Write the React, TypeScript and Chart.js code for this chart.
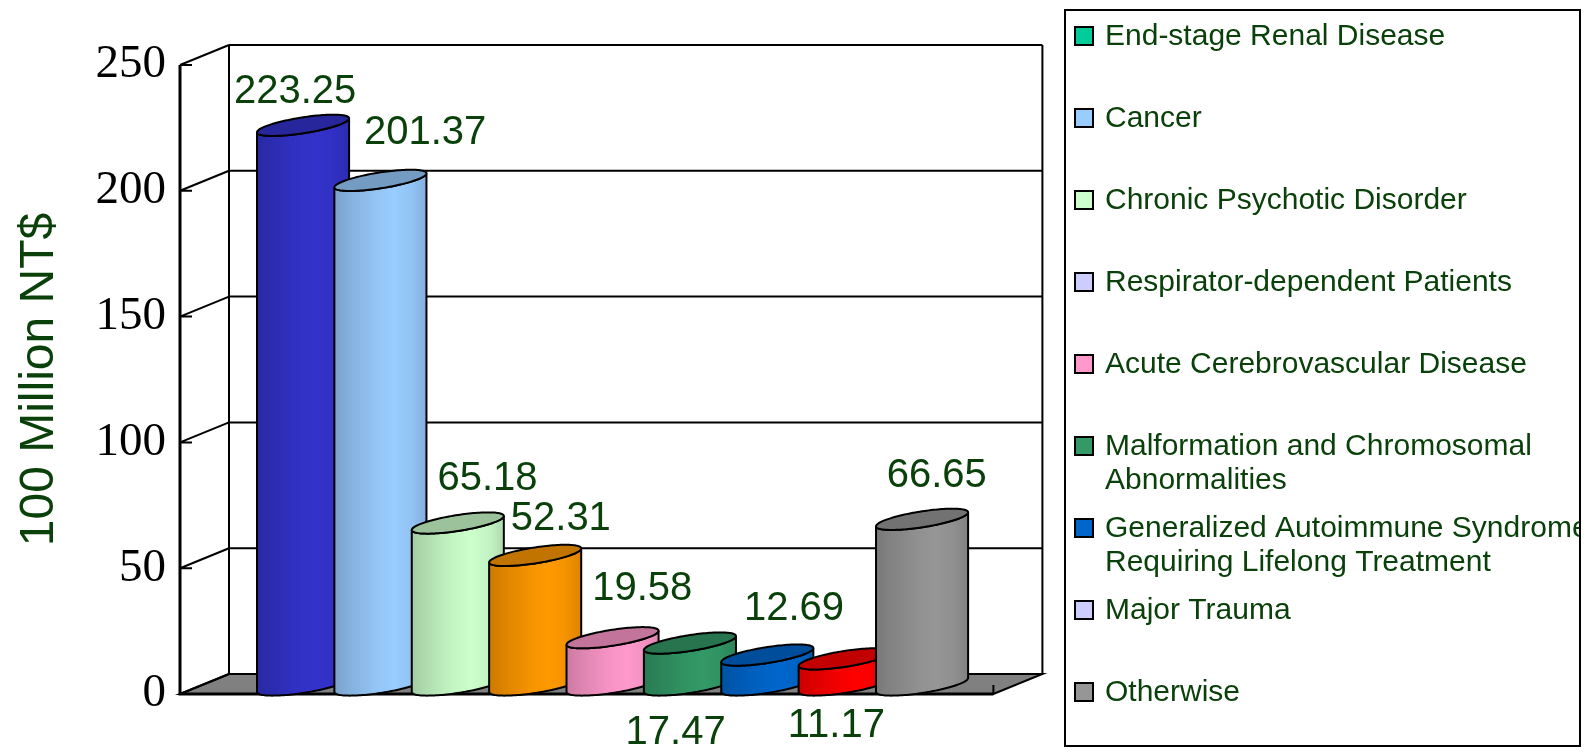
import React, { useEffect, useRef } from "react";
import { Chart, registerables } from "chart.js";

Chart.register(...registerables);

const CATEGORIES = [
  "End-stage Renal Disease",
  "Cancer",
  "Chronic Psychotic Disorder",
  "Respirator-dependent Patients",
  "Acute Cerebrovascular Disease",
  "Malformation and Chromosomal Abnormalities",
  "Generalized Autoimmune Syndrome Requiring Lifelong Treatment",
  "Major Trauma",
  "Otherwise",
];
const LEGEND_LINES = [
  ["End-stage Renal Disease"],
  ["Cancer"],
  ["Chronic Psychotic Disorder"],
  ["Respirator-dependent Patients"],
  ["Acute Cerebrovascular Disease"],
  ["Malformation and Chromosomal", "Abnormalities"],
  ["Generalized Autoimmune Syndrome", "Requiring Lifelong Treatment"],
  ["Major Trauma"],
  ["Otherwise"],
];
const VALUES = [223.25, 201.37, 65.18, 52.31, 19.58, 17.47, 12.69, 11.17, 66.65];
const BAR_COLORS = ["#3333CC", "#99CCFF", "#CCFFCC", "#FF9900", "#FF99CC", "#339966", "#0066CC", "#FF0000", "#969696"];
const LEGEND_COLORS = ["#00CC99", "#99CCFF", "#CCFFCC", "#CCCCFF", "#FF99CC", "#339966", "#0066CC", "#CCCCFF", "#969696"];
const Y_TICKS = [0, 50, 100, 150, 200, 250];
const Y_TITLE = "100 Million NT$";
// label placement (pixel offsets from bar top centre)
const LABEL_OFFSETS = [[-0.5, -40], [52, -54], [37, -51], [33, -43], [37, -56], [-7, 83], [34, -53], [-1, 60], [22, -50]];

const TEXT_GREEN = "#0a400a";
const DEPTH_DX = 49;
const DEPTH_DY = -20;

function hexToRgb(h: string) {
  const n = parseInt(h.slice(1), 16);
  return [(n >> 16) & 255, (n >> 8) & 255, n & 255];
}
function shade(h: string, f: number) {
  const [r, g, b] = hexToRgb(h);
  const c = (v: number) => Math.max(0, Math.min(255, Math.round(v * f)));
  return `rgb(${c(r)},${c(g)},${c(b)})`;
}

const scenePlugin = {
  id: "scene3d",
  beforeDatasetsDraw(chart: any) {
    const { ctx, chartArea } = chart;
    const ys = chart.scales.y;
    const fl = chartArea.left - 77;
    const fr = chartArea.right + 40;
    const y0 = ys.getPixelForValue(0);
    const yMax = ys.getPixelForValue(Y_TICKS[Y_TICKS.length - 1]);
    ctx.save();
    // floor
    ctx.beginPath();
    ctx.moveTo(fl, y0);
    ctx.lineTo(fl + DEPTH_DX, y0 + DEPTH_DY);
    ctx.lineTo(fr + DEPTH_DX, y0 + DEPTH_DY);
    ctx.lineTo(fr, y0);
    ctx.closePath();
    ctx.fillStyle = "#808080";
    ctx.fill();
    ctx.strokeStyle = "#000";
    ctx.lineWidth = 2;
    ctx.stroke();
    // back wall grid + left wall diagonals
    for (const v of Y_TICKS) {
      const y = ys.getPixelForValue(v);
      ctx.beginPath();
      ctx.moveTo(fl + DEPTH_DX, y + DEPTH_DY);
      ctx.lineTo(fr + DEPTH_DX, y + DEPTH_DY);
      ctx.moveTo(fl, y);
      ctx.lineTo(fl + DEPTH_DX, y + DEPTH_DY);
      ctx.moveTo(fl, y);
      ctx.lineTo(fl + 12, y);
      ctx.stroke();
    }
    // back verticals
    ctx.beginPath();
    ctx.moveTo(fl + DEPTH_DX, yMax + DEPTH_DY);
    ctx.lineTo(fl + DEPTH_DX, y0 + DEPTH_DY);
    ctx.moveTo(fr + DEPTH_DX, yMax + DEPTH_DY);
    ctx.lineTo(fr + DEPTH_DX, y0 + DEPTH_DY);
    ctx.stroke();
    // front axis and floor front edge
    ctx.lineWidth = 3;
    ctx.beginPath();
    ctx.moveTo(fl, yMax);
    ctx.lineTo(fl, y0);
    ctx.lineTo(fr, y0);
    ctx.stroke();
    ctx.lineWidth = 2;
    ctx.beginPath();
    ctx.moveTo(fr, y0 - 9);
    ctx.lineTo(fr, y0);
    ctx.stroke();
    ctx.restore();
  },
  beforeDatasetDraw() {
    return false;
  },
  afterDatasetsDraw(chart: any) {
    const { ctx } = chart;
    const meta = chart.getDatasetMeta(0);
    const s = -7;
    const b = 8;
    const N = 64;
    ctx.save();
    meta.data.forEach((el: any, i: number) => {
      const color = BAR_COLORS[i];
      const x0 = el.x - el.width / 2;
      const W = el.width * 1.19;
      const a = W / 2;
      const cx = x0 + a;
      const cyT = el.y - 7;
      const cyB = el.base - 9;
      const pt = (cy: number, t: number) => [cx + a * Math.cos(t), cy + s * Math.cos(t) + b * Math.sin(t)];
      // body
      const grad = ctx.createLinearGradient(cx - a, 0, cx + a, 0);
      grad.addColorStop(0, shade(color, 0.8));
      grad.addColorStop(0.18, shade(color, 0.87));
      grad.addColorStop(0.45, shade(color, 0.96));
      grad.addColorStop(0.65, shade(color, 1.0));
      grad.addColorStop(0.85, shade(color, 0.95));
      grad.addColorStop(1, shade(color, 0.86));
      ctx.beginPath();
      let p = pt(cyT, Math.PI);
      ctx.moveTo(p[0], p[1]);
      for (let k = 0; k <= N; k++) {
        const t = Math.PI - (Math.PI * k) / N;
        p = pt(cyB, t);
        ctx.lineTo(p[0], p[1]);
      }
      for (let k = 0; k <= N; k++) {
        const t = (Math.PI * k) / N;
        p = pt(cyT, t);
        ctx.lineTo(p[0], p[1]);
      }
      ctx.closePath();
      ctx.fillStyle = grad;
      ctx.fill();
      ctx.strokeStyle = "#000";
      ctx.lineWidth = 2;
      ctx.stroke();
      // top
      ctx.beginPath();
      for (let k = 0; k <= 2 * N; k++) {
        const t = (Math.PI * k) / N;
        p = pt(cyT, t);
        if (k === 0) ctx.moveTo(p[0], p[1]);
        else ctx.lineTo(p[0], p[1]);
      }
      ctx.closePath();
      ctx.fillStyle = shade(color, 0.76);
      ctx.fill();
      ctx.stroke();
    });
    // data labels
    ctx.font = "40px 'Liberation Sans', Arial, sans-serif";
    ctx.fillStyle = TEXT_GREEN;
    ctx.textAlign = "center";
    ctx.textBaseline = "middle";
    meta.data.forEach((el: any, i: number) => {
      const [dx, dy] = LABEL_OFFSETS[i];
      ctx.fillText(VALUES[i].toFixed(2), el.x + dx, el.y + dy);
    });
    ctx.restore();
  },
  afterDraw(chart: any) {
    const { ctx } = chart;
    const box = { l: 1065, t: 10, r: 1580, b: 746 };
    ctx.save();
    ctx.strokeStyle = "#000";
    ctx.lineWidth = 2;
    ctx.strokeRect(box.l, box.t, box.r - box.l, box.b - box.t);
    ctx.beginPath();
    ctx.rect(box.l + 1, box.t + 1, box.r - box.l - 2, box.b - box.t - 2);
    ctx.clip();
    ctx.font = "30px 'Liberation Sans', Arial, sans-serif";
    ctx.textAlign = "left";
    ctx.textBaseline = "middle";
    LEGEND_LINES.forEach((lines, i) => {
      const yc = 36 + 82 * i;
      ctx.fillStyle = LEGEND_COLORS[i];
      ctx.fillRect(1075, yc - 9, 18, 18);
      ctx.strokeStyle = "#000";
      ctx.lineWidth = 2;
      ctx.strokeRect(1075, yc - 9, 18, 18);
      ctx.fillStyle = TEXT_GREEN;
      lines.forEach((ln, j) => ctx.fillText(ln, 1105, yc + 1 + j * 34));
    });
    ctx.restore();
  },
};

export default function App() {
  const ref = useRef<HTMLCanvasElement | null>(null);
  useEffect(() => {
    if (!ref.current) return;
    const chart = new Chart(ref.current, {
      type: "bar",
      data: {
        labels: CATEGORIES,
        datasets: [
          {
            data: VALUES,
            backgroundColor: BAR_COLORS,
            barPercentage: 1,
            categoryPercentage: 1,
          },
        ],
      },
      options: {
        animation: false,
        responsive: false,
        maintainAspectRatio: false,
        devicePixelRatio: 1,
        layout: { padding: { left: 11, right: 641.6, top: 65, bottom: 58 } },
        plugins: { legend: { display: false }, tooltip: { enabled: false } },
        scales: {
          x: { type: "category", display: false, offset: true },
          y: {
            min: 0,
            max: 250,
            afterBuildTicks: (s: any) => {
              s.ticks = Y_TICKS.map((v) => ({ value: v }));
            },
            afterFit: (s: any) => {
              s.width = 246;
              s.paddingTop = 0;
              s.paddingBottom = 0;
            },
            grid: { display: false, drawTicks: false },
            border: { display: false },
            ticks: {
              padding: 91,
              color: "#000",
              font: { family: "'Liberation Serif', 'Times New Roman', serif", size: 47 },
            },
            title: {
              display: true,
              text: Y_TITLE,
              color: TEXT_GREEN,
              padding: 0,
              font: { family: "'Liberation Sans', Arial, sans-serif", size: 48 },
            },
          },
        },
      },
      plugins: [scenePlugin],
    } as any);
    return () => chart.destroy();
  }, []);
  return (
    <div style={{ position: "fixed", left: 0, top: 0, width: 1595, height: 752, background: "#fff" }}>
      <canvas ref={ref} width={1595} height={752} />
    </div>
  );
}
